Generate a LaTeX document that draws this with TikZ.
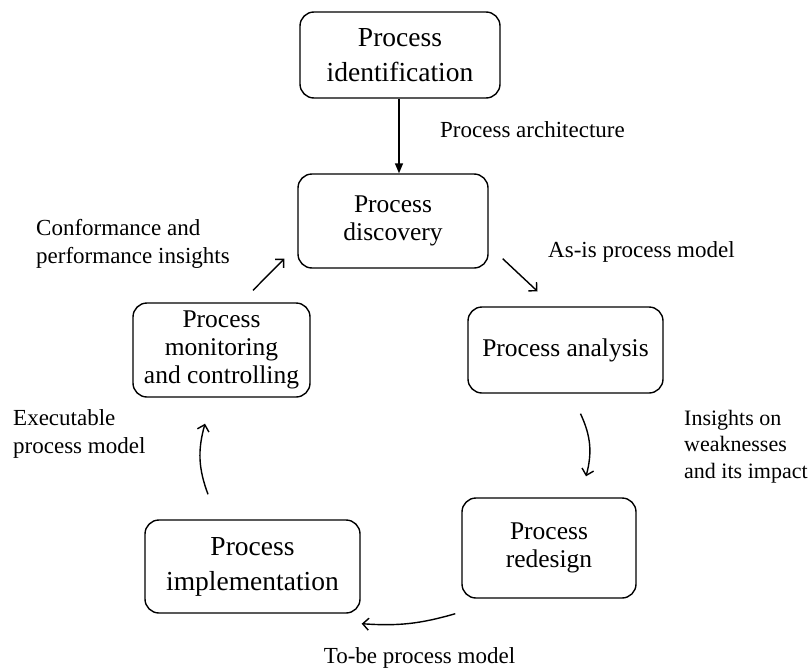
\documentclass[tikz,border=0pt]{standalone}
\usepackage{fontspec}
\setmainfont{Liberation Serif}
\usetikzlibrary{arrows.meta}
\tikzset{
  fase/.style    = {rectangle, draw, rounded corners=14pt, line width=1.4pt, align=center, font=\fontsize{25.5}{28}\selectfont},
  grande/.style  = {font=\fontsize{27.5}{35}\selectfont},
  freccia/.style = {line width=1.4pt, -{Straight Barb[length=6pt,width=12pt]}},
  piena/.style   = {line width=1.4pt, -{Triangle[length=10pt,width=8pt]}},
  et/.style      = {align=left, inner sep=0pt, font=\fontsize{23}{28}\selectfont}
}
\begin{document}
\begin{tikzpicture}[x=1pt,y=-1pt]
  \useasboundingbox (0,0) rectangle (810,669);
  \node[fase,grande,minimum width=200pt,minimum height=86pt] (id) at (400,55) {Process\\identification};
  \node[fase,minimum width=190pt,minimum height=94pt] (di) at (393,221) {Process\\discovery};
  \node[fase,minimum width=195pt,minimum height=86pt] (an) at (565.5,350) {Process analysis};
  \node[fase,minimum width=174pt,minimum height=100pt] (rd) at (549,548) {Process\\redesign};
  \node[fase,minimum width=177pt,minimum height=94pt] (mo) at (221.5,350) {Process\\monitoring\\and controlling};
  \node[fase,grande,minimum width=215pt,minimum height=93pt] (im) at (252.5,566.5) {Process\\implementation};

  \draw[piena] (id.south -| 399,0) -- (di.north -| 399,0);
  \draw[freccia] ([xshift=14pt,yshift=10pt]di.south east) -- ([xshift=-28pt,yshift=15pt]an.north);
  \draw[freccia] ([xshift=15pt,yshift=-20pt]an.south) to[bend left=20] ([xshift=37pt,yshift=21pt]rd.north);
  \draw[freccia] ([xshift=-6pt,yshift=-15pt]rd.south west) to[bend left=10] ([xshift=1pt,yshift=-10pt]im.south east);
  \draw[freccia] ([xshift=-44.5pt,yshift=25pt]im.north) to[bend left=18] ([xshift=-16.5pt,yshift=-26pt]mo.south);
  \draw[freccia] ([xshift=31.5pt,yshift=12pt]mo.north) -- ([xshift=-13pt,yshift=10pt]di.south west);

  \node[et,anchor=base west] (pa) at (440,137) {Process architecture};
  \node[et,anchor=base west] (ai) at (548,257) {As-is process model};
  \node[et,anchor=north west,font=\fontsize{22}{26.5}\selectfont] (iw) at (684,410) {Insights on\\weaknesses\\and its impact};
  \node[et,anchor=base] (tb) at (419.5,663) {To-be process model};
  \node[et,anchor=north west] (ep) at (13,409) {Executable\\process model};
  \node[et,anchor=north west] (cp) at (36,219) {Conformance and\\performance insights};
\end{tikzpicture}
\end{document}
